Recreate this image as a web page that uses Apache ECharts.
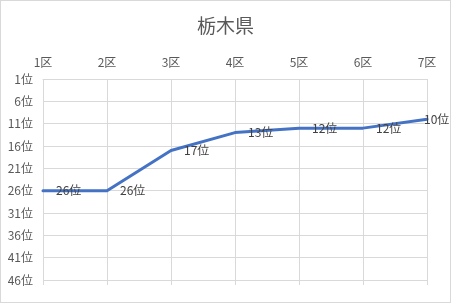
<!DOCTYPE html>
<html>
<head>
<meta charset="utf-8">
<script src="https://cdn.jsdelivr.net/npm/echarts@6/dist/echarts.min.js"></script>
<style>
html,body{margin:0;padding:0;background:#fff;}
#c{width:451px;height:303px;box-sizing:border-box;border:1px solid #d9d9d9;}
</style>
</head>
<body>
<div id="c"></div>
<script>
const title = '栃木県';
const categories = ['1区','2区','3区','4区','5区','6区','7区'];
const ranks = [26, 26, 17, 13, 12, 12, 10];
const rankMin = 1, rankMax = 46, rankStep = 5;

const FONT = '"Noto Sans CJK JP", "Noto Sans", sans-serif';
const chart = echarts.init(document.getElementById('c'), null, {renderer: 'canvas'});
const seriesData = ranks.map((r, i) => {
  const item = { value: r - rankMin, rank: r };
  if (i === ranks.length - 1) item.label = { position: [-2, 1], align: 'left', verticalAlign: 'middle' };
  return item;
});
chart.setOption({
  animation: false,
  title: {
    text: title, left: 'center', top: 10,
    textStyle: { fontFamily: FONT, fontSize: 19, fontWeight: 'normal', color: '#595959' }
  },
  grid: { left: 42, right: 23, top: 78, bottom: 22, containLabel: false },
  xAxis: [{
    type: 'category', data: categories, position: 'top', boundaryGap: false,
    axisLine: { show: true, lineStyle: { color: '#d9d9d9' } },
    axisTick: { show: false },
    axisLabel: { fontFamily: FONT, fontSize: 12, color: '#595959', margin: 11 },
    splitLine: { show: true, lineStyle: { color: '#d9d9d9', width: 1 } }
  }, {
    type: 'category', data: categories, position: 'bottom', boundaryGap: false,
    axisLine: { show: false },
    axisTick: { show: true, length: 5, inside: false, lineStyle: { color: '#d9d9d9' } },
    axisLabel: { show: false },
    splitLine: { show: false }
  }],
  yAxis: {
    type: 'value', inverse: true, min: 0, max: rankMax - rankMin, interval: rankStep,
    axisLine: { show: false }, axisTick: { show: false },
    axisLabel: { fontFamily: FONT, fontSize: 12, color: '#595959', margin: 10,
      formatter: v => (v + rankMin) + '位' },
    splitLine: { show: true, lineStyle: { color: '#d9d9d9', width: 1 } }
  },
  series: [{
    type: 'line', xAxisIndex: 0, data: seriesData,
    symbol: 'circle', symbolSize: 2, showSymbol: true, smooth: false,
    itemStyle: { color: 'rgba(0,0,0,0)', borderWidth: 0 },
    lineStyle: { color: '#4472C4', width: 3, cap: 'round', join: 'round' },
    label: {
      show: true, position: 'right', distance: 12, opacity: 1,
      fontFamily: FONT, fontSize: 12, color: '#404040',
      formatter: p => p.data.rank + '位'
    },
    labelLayout: { hideOverlap: false }
  }]
});
</script>
</body>
</html>
